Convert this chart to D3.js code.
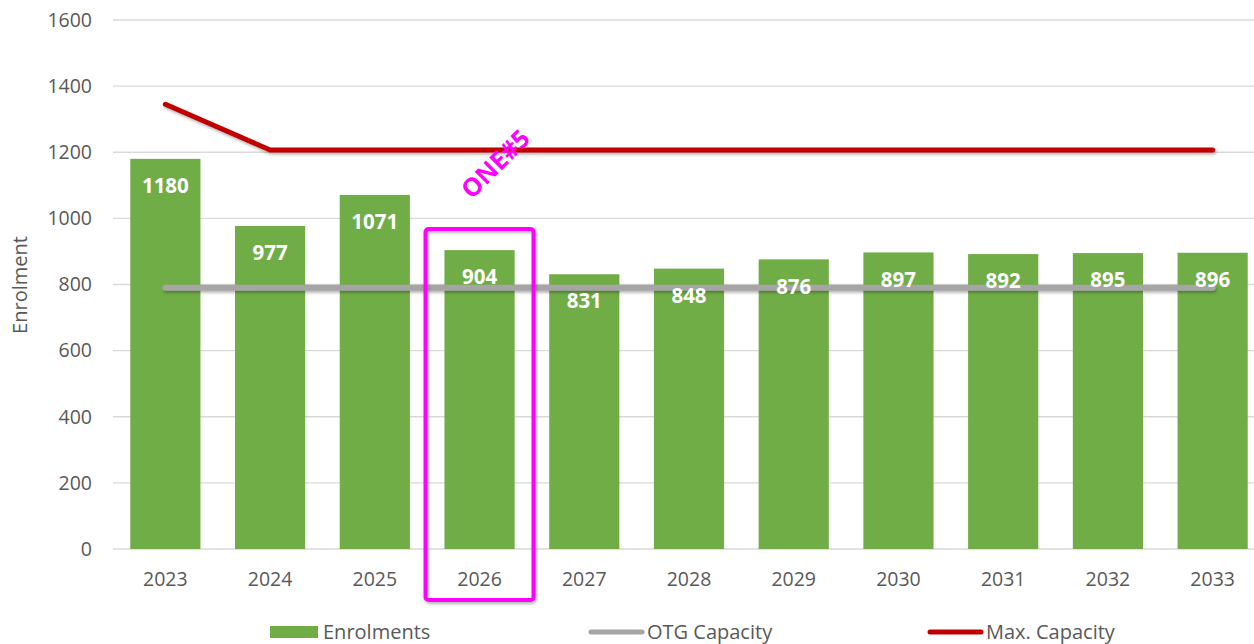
<!DOCTYPE html>
<html>
<head>
<meta charset="utf-8">
<script src="https://cdn.jsdelivr.net/npm/d3@7"></script>
<style>
  body { margin: 0; background: #fff; }
  svg { display: block; font-family: "Open Sans", "Noto Sans", sans-serif; }
</style>
</head>
<body>
<svg id="chart" width="1254" height="644"></svg>
<script>
"use strict";

// chart data
var years = ["2023", "2024", "2025", "2026", "2027", "2028", "2029", "2030", "2031", "2032", "2033"];
var enrolments = [1180, 977, 1071, 904, 831, 848, 876, 897, 892, 895, 896];
var otgCapacity = [790, 790, 790, 790, 790, 790, 790, 790, 790, 790, 790];
var maxCapacity = [1345, 1207, 1207, 1207, 1207, 1207, 1207, 1207, 1207, 1207, 1207];
var yTicks = [0, 200, 400, 600, 800, 1000, 1200, 1400, 1600];
var legendItems = ["Enrolments", "OTG Capacity", "Max. Capacity"];
var highlightYear = "2026";
var highlightLabel = "ONE#5";

var svg = d3.select("#chart");

// scales
var xScale = d3.scaleBand()
    .domain(years)
    .range([113, 1265])
    .paddingInner(0.33)
    .paddingOuter(0.165);

var yScale = d3.scaleLinear()
    .domain([0, 1600])
    .range([549, 20]);

// soft shadow for the lines (user space so flat lines still render)
var defs = svg.append("defs");
var shadow = defs.append("filter").attr("id", "shadow")
    .attr("filterUnits", "userSpaceOnUse")
    .attr("x", 0).attr("y", 0).attr("width", 1254).attr("height", 644);
shadow.append("feDropShadow")
    .attr("dx", 1).attr("dy", 2).attr("stdDeviation", 1.5)
    .attr("flood-color", "#000").attr("flood-opacity", 0.3);

// gridlines
svg.append("g").selectAll("line")
    .data(yTicks)
    .enter().append("line")
    .attr("x1", 113).attr("x2", 1254)
    .attr("y1", function(d) { return yScale(d); })
    .attr("y2", function(d) { return yScale(d); })
    .attr("stroke", "#d9d9d9")
    .attr("stroke-width", 1.3);

// y tick labels
svg.append("g").selectAll("text")
    .data(yTicks)
    .enter().append("text")
    .attr("x", 92)
    .attr("y", function(d) { return yScale(d); })
    .attr("dy", "0.35em")
    .attr("text-anchor", "end")
    .attr("fill", "#595959")
    .attr("font-size", 19.5)
    .text(function(d) { return d; });

// y axis title
svg.append("text")
    .attr("transform", "translate(27,285) rotate(-90)")
    .attr("text-anchor", "middle")
    .attr("fill", "#595959")
    .attr("font-size", 20)
    .text("Enrolment");

// x tick labels
svg.append("g").selectAll("text")
    .data(years)
    .enter().append("text")
    .attr("x", function(d) { return xScale(d) + xScale.bandwidth() / 2; })
    .attr("y", 586)
    .attr("text-anchor", "middle")
    .attr("fill", "#595959")
    .attr("font-size", 19.5)
    .text(function(d) { return d; });

// bars
svg.append("g").selectAll("rect")
    .data(enrolments)
    .enter().append("rect")
    .attr("x", function(d, i) { return xScale(years[i]); })
    .attr("y", function(d) { return yScale(d); })
    .attr("width", xScale.bandwidth())
    .attr("height", function(d) { return yScale(0) - yScale(d); })
    .attr("fill", "#70ad47");

// lines
var line = d3.line()
    .x(function(d, i) { return xScale(years[i]) + xScale.bandwidth() / 2; })
    .y(function(d) { return yScale(d); });

svg.append("path")
    .datum(otgCapacity)
    .attr("d", line)
    .attr("fill", "none")
    .attr("stroke", "#a5a5a5")
    .attr("stroke-width", 6)
    .attr("stroke-linecap", "round")
    .attr("filter", "url(#shadow)");

svg.append("path")
    .datum(maxCapacity)
    .attr("d", line)
    .attr("fill", "none")
    .attr("stroke", "#c00000")
    .attr("stroke-width", 5)
    .attr("stroke-linecap", "round")
    .attr("stroke-linejoin", "round")
    .attr("filter", "url(#shadow)");

// bar value labels
svg.append("g").selectAll("text")
    .data(enrolments)
    .enter().append("text")
    .attr("x", function(d, i) { return xScale(years[i]) + xScale.bandwidth() / 2; })
    .attr("y", function(d) { return yScale(d) + 27; })
    .attr("dy", "0.35em")
    .attr("text-anchor", "middle")
    .attr("fill", "#ffffff")
    .attr("font-size", 20.5)
    .attr("font-weight", "bold")
    .text(function(d) { return d; });

// highlight box around one year
var hx = xScale(highlightYear) + xScale.bandwidth() / 2;
svg.append("rect")
    .attr("x", hx - 54)
    .attr("y", 229)
    .attr("width", 108)
    .attr("height", 371)
    .attr("rx", 3)
    .attr("fill", "none")
    .attr("stroke", "#ff00ff")
    .attr("stroke-width", 4)
    .attr("filter", "url(#shadow)");

svg.append("text")
    .attr("transform", "translate(" + (hx + 16) + ",164) rotate(-45)")
    .attr("text-anchor", "middle")
    .attr("dy", "0.35em")
    .attr("fill", "#ff00ff")
    .attr("font-size", 25)
    .attr("font-weight", "bold")
    .text(highlightLabel);

// legend
var legend = svg.append("g");
var legendX = [270, 589, 928];
legendItems.forEach(function(name, i) {
    var g = legend.append("g").attr("transform", "translate(" + legendX[i] + ",632)");
    if (i === 0) {
        g.append("rect").attr("x", 0).attr("y", -6).attr("width", 48).attr("height", 12).attr("fill", "#70ad47");
    } else {
        g.append("line").attr("x1", 2).attr("x2", 53).attr("y1", 0).attr("y2", 0)
            .attr("stroke", i === 1 ? "#a5a5a5" : "#c00000")
            .attr("stroke-width", 5)
            .attr("stroke-linecap", "round");
    }
    g.append("text")
        .attr("x", i === 0 ? 53 : 58)
        .attr("y", 0)
        .attr("dy", "0.35em")
        .attr("fill", "#595959")
        .attr("font-size", 20)
        .text(name);
});
</script>
</body>
</html>
